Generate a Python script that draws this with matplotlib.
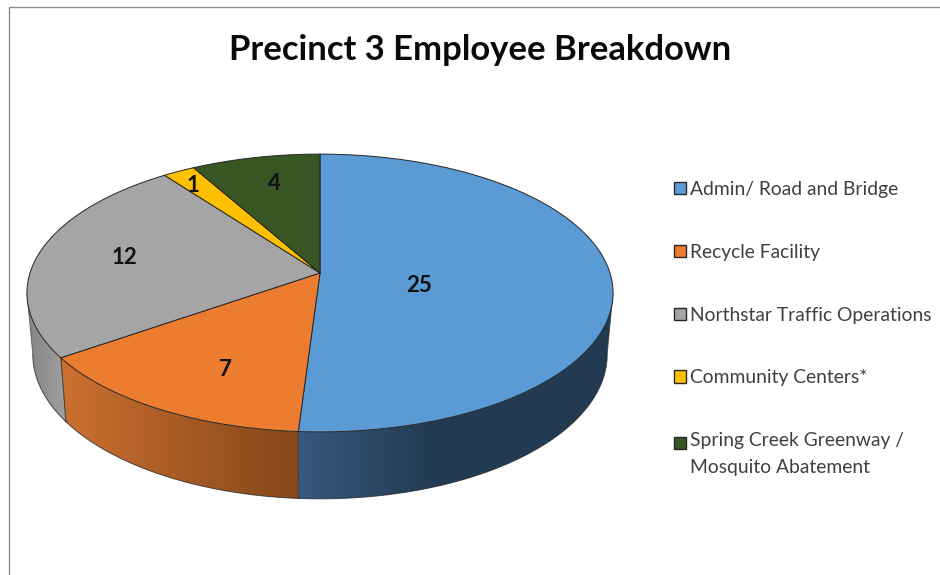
import numpy as np
import matplotlib
matplotlib.use("Agg")
import matplotlib.pyplot as plt
from matplotlib.patches import Patch, Polygon, Rectangle
from matplotlib.colors import LinearSegmentedColormap
from matplotlib.legend_handler import HandlerPatch

TITLE = "Precinct 3 Employee Breakdown"
categories = ["Admin/ Road and Bridge", "Recycle Facility", "Northstar Traffic Operations",
              "Community Centers*", "Spring Creek Greenway /\nMosquito Abatement"]
values = [25, 7, 12, 1, 4]
colors = ["#5B9BD5", "#EC7C30", "#A5A5A5", "#FFC000", "#375623"]
label_xy = [(419, 286), (225, 370), (124, 258), (193, 186), (274, 183)]

CX, CY, A, B, K = 320.0, 273.0, 136.0, 290.0, 0.144
plt.rcParams["font.family"] = ["Lato", "DejaVu Sans"]

def top(theta):
    u, v = np.sin(theta), np.cos(theta)
    d = 1 + K * v
    return CX + B * u / d, CY - A * v / d

def bottom(theta):
    x, y = top(theta)
    return CX + (x - CX) * 0.98, y + 64 + (y - 358) * 0.04

fig = plt.figure(figsize=(9.4, 5.75), dpi=100)
ax = fig.add_axes([0, 0, 1, 1])
ax.set_xlim(0, 940)
ax.set_ylim(575, 0)
ax.axis("off")

ax.plot([9.0, 9.0, 940], [575, 7.0, 7.0], color="#8c8c8c", lw=1.0, zorder=1)

wall_shades = [
    [(0.0, "#37597E"), (0.42, "#223B52"), (1.0, "#223B52")],
    [(0.0, "#CC7030"), (1.0, "#84461A")],
    [(0.0, "#858585"), (1.0, "#A0A0A0")],
    [(0.0, "#BF9000"), (1.0, "#BF9000")],
    [(0.0, "#2A421B"), (1.0, "#2A421B")],
]

fractions = np.cumsum([0] + values) / sum(values) * 2 * np.pi
grad = np.linspace(0, 1, 256)[None, :]

# Side walls: only the part of each slice rim that faces the viewer
for i in range(len(values)):
    t = np.linspace(fractions[i], fractions[i + 1], 300)
    keep = np.cos(t) < -K
    if keep.sum() < 2:
        continue
    t = t[keep]
    tx, ty = top(t)
    bx, by = bottom(t)
    px = np.r_[tx, bx[::-1]]
    py = np.r_[ty, by[::-1]]
    poly = Polygon(np.c_[px, py], closed=True, facecolor="none", edgecolor="none", zorder=2)
    ax.add_patch(poly)
    cmap = LinearSegmentedColormap.from_list(f"w{i}", wall_shades[i])
    im = ax.imshow(grad, extent=(px.min(), px.max(), 575, 0), cmap=cmap,
                   aspect="auto", zorder=2, vmin=0, vmax=1)
    im.set_clip_path(poly)
    ax.plot(bx, by, color="#2b2b2b", lw=0.7, alpha=0.8, zorder=3)
    ax.plot([tx[0], bx[0]], [ty[0], by[0]], color="#333333", lw=0.6, alpha=0.7, zorder=3)
    ax.plot([tx[-1], bx[-1]], [ty[-1], by[-1]], color="#333333", lw=0.6, alpha=0.7, zorder=3)

# Top faces
for i in range(len(values)):
    t = np.linspace(fractions[i], fractions[i + 1], 300)
    x, y = top(t)
    ax.fill(np.r_[CX, x], np.r_[CY, y], facecolor=colors[i], edgecolor="#262626",
            lw=0.7, joinstyle="round", zorder=4)

for v, (x, y) in zip(values, label_xy):
    ax.text(x, y, str(v), ha="center", va="center", fontsize=16, fontweight="bold",
            color="#111111", zorder=5)

ax.text(480, 50, TITLE, ha="center", va="center", fontsize=24.9, fontweight="bold", color="#0a0a0a")


def first_line_patch(legend, orig_handle, xdescent, ydescent, width, height, fontsize):
    return Rectangle((-xdescent, -ydescent + 8.0), width, height)


handles = [Patch(facecolor=c, edgecolor="#262626", lw=1.0) for c in colors]
leg = ax.legend(handles, categories, loc="upper left", bbox_to_anchor=(674 / 940, 1 - 181 / 575),
                frameon=False, fontsize=13.85, labelcolor="#404040", handlelength=0.62,
                handleheight=0.62, handletextpad=0.22, labelspacing=2.38, borderpad=0,
                borderaxespad=0,
                handler_map={handles[-1]: HandlerPatch(patch_func=first_line_patch)})
leg.get_texts()[-1].set_linespacing(1.7)

fig.savefig("out.png", dpi=100)
